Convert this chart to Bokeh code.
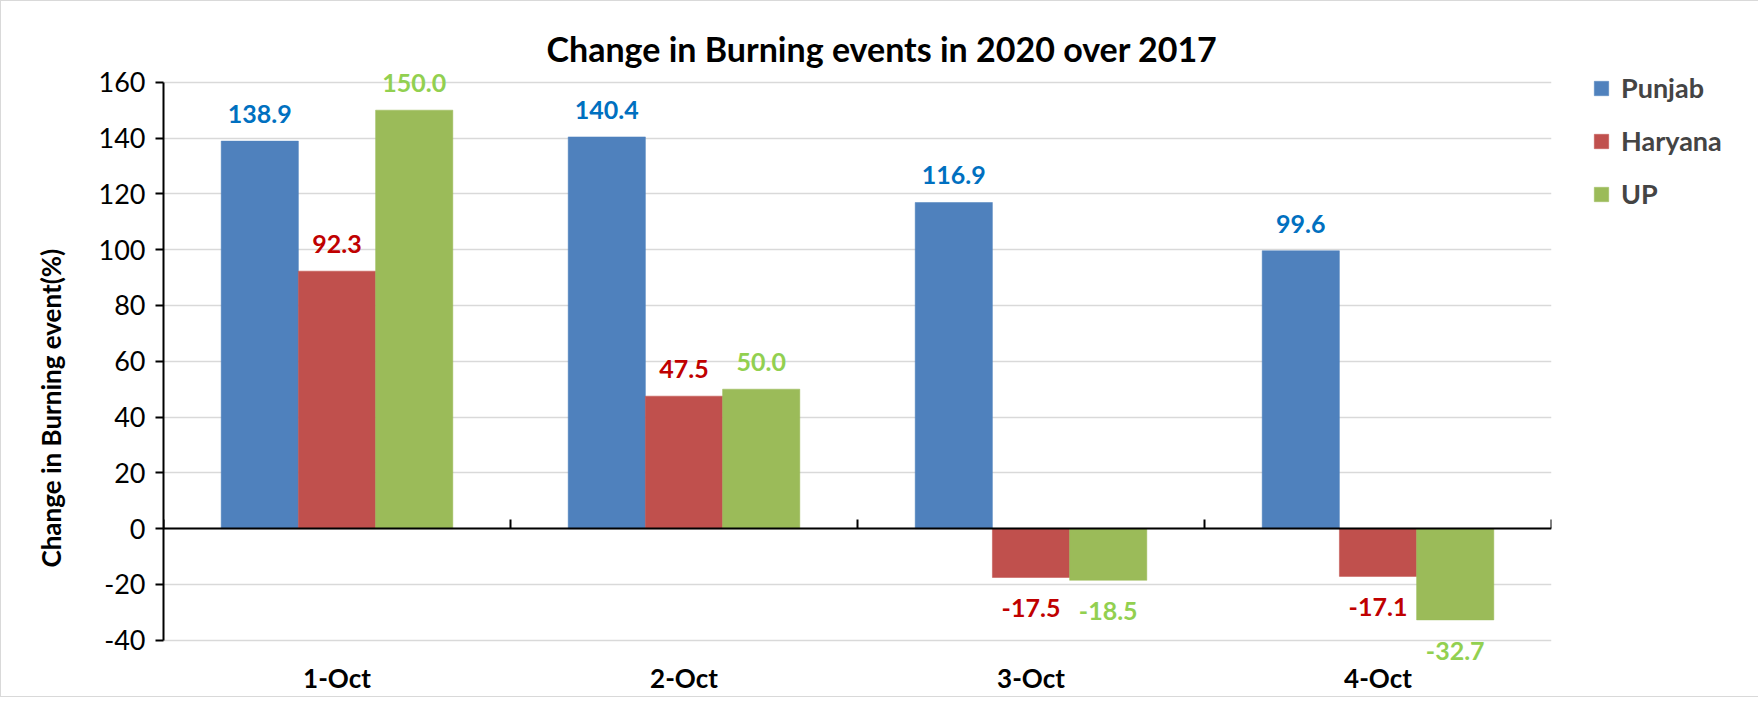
from bokeh.plotting import figure
from bokeh.models import (ColumnDataSource, Range1d, FixedTicker, LinearAxis,
                          Legend, LegendItem, Title)
from bokeh.embed import file_html
from bokeh.resources import INLINE
from bokeh.core.properties import value

# ---------------- data ----------------
categories = ["1-Oct", "2-Oct", "3-Oct", "4-Oct"]
series_names = ["Punjab", "Haryana", "UP"]
punjab = [138.9, 140.4, 116.9, 99.6]
haryana = [92.3, 47.5, -17.5, -17.1]
up = [150.0, 50.0, -18.5, -32.7]
y_ticks = [-40, -20, 0, 20, 40, 60, 80, 100, 120, 140, 160]

title_text = "Change in Burning events in 2020 over 2017"
y_title = "Change in Burning event(%)"

# ---------------- style ----------------
bar_colors = ["#4F81BD", "#C0504D", "#9BBB59"]
label_colors = ["#0070C0", "#C00000", "#92D050"]
FONT = "Lato"
BAR_W = 0.2225
Y_LOW = -58   # extra room under the lowest tick for category labels
Y_HIGH = 166  # extra room over the top tick for data labels

n = len(categories)
p = figure(frame_width=1388, frame_height=625,
           x_range=Range1d(0, n), y_range=Range1d(Y_LOW, Y_HIGH),
           output_backend="svg", toolbar_location=None,
           min_border_left=162, min_border_right=192,
           min_border_top=64, min_border_bottom=6)
p.outline_line_color = None
p.styles = {"border": "1px solid #D9D9D9"}

# title
p.title.text = title_text
p.title.text_font = FONT
p.title.text_font_style = "bold"
p.title.text_font_size = "34px"
p.title.text_color = "black"
p.title.align = "left"
p.title.offset = 383
p.title.standoff = -7

# grid
p.xgrid.grid_line_color = None
p.ygrid.ticker = FixedTicker(ticks=y_ticks)
p.ygrid.grid_line_color = "#D9D9D9"
p.ygrid.grid_line_width = 1.5

# y axis
p.yaxis.ticker = FixedTicker(ticks=y_ticks)
p.yaxis.bounds = (y_ticks[0], y_ticks[-1])
p.yaxis.major_label_overrides = {t: str(t) for t in y_ticks}
p.yaxis.axis_line_width = 2
p.yaxis.axis_line_color = "black"
p.yaxis.major_tick_out = 8
p.yaxis.major_tick_in = 0
p.yaxis.major_tick_line_width = 2
p.yaxis.minor_tick_line_color = None
p.yaxis.major_label_text_font = FONT
p.yaxis.major_label_text_font_size = "27px"
p.yaxis.major_label_text_color = "black"
p.yaxis.major_label_standoff = 10

# y axis title (placed lower than the frame centre, as in the original)
p.add_layout(Title(text=y_title, align="left", offset=123, standoff=57,
                   text_font=FONT, text_font_style="bold",
                   text_font_size="26px", text_color="black"), "left")

# default x axis hidden: category labels are drawn under the lowest tick
p.xaxis.visible = False

# zero line axis with category boundary ticks
bounds_ticks = list(range(n + 1))
zero_axis = LinearAxis(fixed_location=0,
                       ticker=FixedTicker(ticks=bounds_ticks),
                       major_label_overrides={t: "" for t in bounds_ticks},
                       major_tick_in=9, major_tick_out=0,
                       major_tick_line_width=2, axis_line_width=2,
                       axis_line_color="black", major_tick_line_color="black",
                       minor_tick_line_color=None,
                       major_label_standoff=0)
p.add_layout(zero_axis, "below")

# category labels
centers = [i + 0.5 for i in range(n)]
cat_src = ColumnDataSource(dict(x=centers, y=[y_ticks[0]] * n, t=categories))
p.text(x="x", y="y", text="t", source=cat_src, text_align="center",
       text_baseline="middle", y_offset=38,
       text_font=value(FONT), text_font_style="bold",
       text_font_size="26px", text_color="black")

# bars and data labels
all_series = [punjab, haryana, up]
offsets = [-BAR_W, 0.0, BAR_W]
items = []
for name, vals, col, lcol, off in zip(series_names, all_series, bar_colors, label_colors, offsets):
    xs = [c + off for c in centers]
    src = ColumnDataSource(dict(x=xs, top=vals))
    r = p.vbar(x="x", top="top", bottom=0, width=BAR_W, source=src,
               fill_color=col, line_color=col, line_width=0.5)
    items.append(LegendItem(label=name, renderers=[r]))
    pos = [k for k, v in enumerate(vals) if v >= 0]
    neg = [k for k, v in enumerate(vals) if v < 0]
    if pos:
        s_pos = ColumnDataSource(dict(x=[xs[k] for k in pos], y=[vals[k] for k in pos],
                                      t=["%.1f" % vals[k] for k in pos]))
        p.text(x="x", y="y", text="t", source=s_pos, text_align="center",
               text_baseline="alphabetic", y_offset=-27,
               text_font=value(FONT), text_font_style="bold",
               text_font_size="25px", text_color=lcol)
    if neg:
        s_neg = ColumnDataSource(dict(x=[xs[k] for k in neg], y=[vals[k] for k in neg],
                                      t=["%.1f" % vals[k] for k in neg]))
        p.text(x="x", y="y", text="t", source=s_neg, text_align="center",
               text_baseline="top", y_offset=22,
               text_font=value(FONT), text_font_style="bold",
               text_font_size="25px", text_color=lcol)

legend = Legend(items=items, location=(41, 480))
legend.border_line_color = None
legend.background_fill_alpha = 0
legend.padding = 0
legend.margin = 0
legend.glyph_width = 18
legend.glyph_height = 18
legend.label_text_font = FONT
legend.label_text_font_style = "bold"
legend.label_text_font_size = "27px"
legend.label_standoff = 11
legend.spacing = 20
p.add_layout(legend, "right")

open("out.html", "w").write(file_html(p, INLINE))
